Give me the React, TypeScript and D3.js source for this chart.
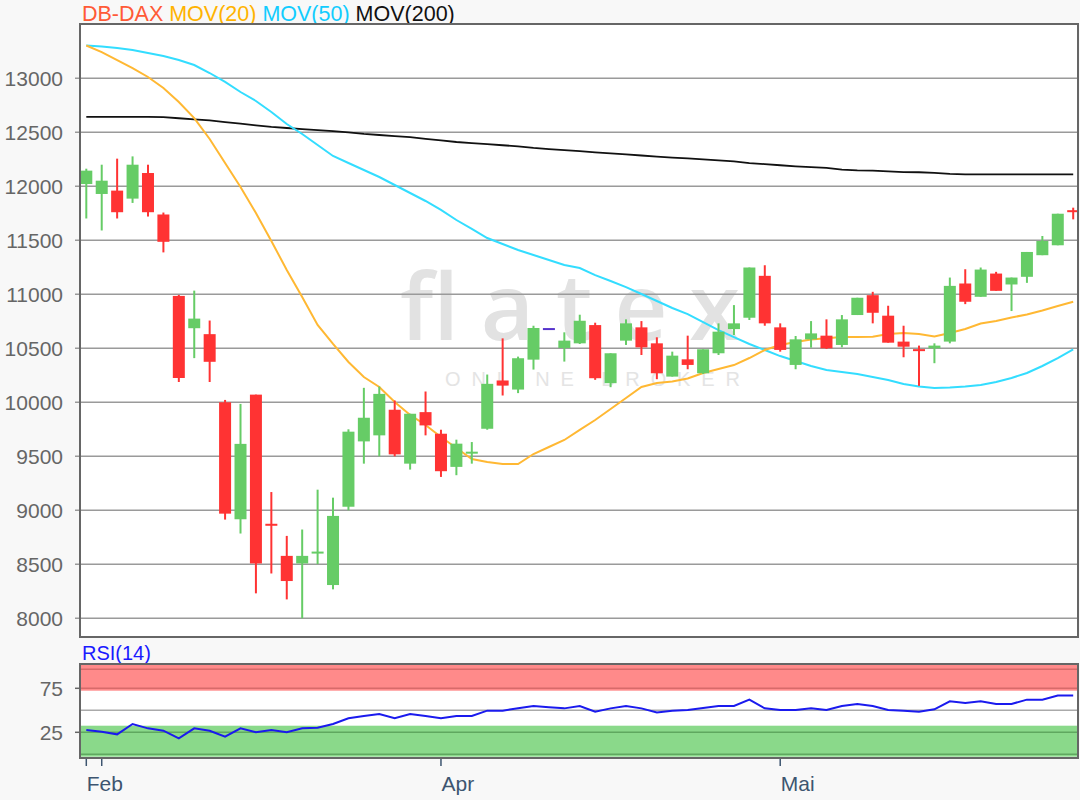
import React from 'react';
import * as d3 from 'd3';

// ---- data ----
const opens = [12021, 11929, 11960, 11886, 12123, 11739, 10985, 10686, 10631, 10000, 8917, 10071, 8870, 8578, 8508, 8605, 8308, 9033, 9638, 9694, 9931, 9432, 9909, 9709, 9402, 9530, 9755, 10202, 10118, 10395, 10678, 10503, 10546, 10715, 10177, 10571, 10694, 10546, 10238, 10398, 10269, 10454, 10678, 10783, 11171, 10694, 10346, 10583, 10617, 10531, 10808, 10992, 10802, 10562, 10491, 10500, 10562, 11100, 10977, 11192, 11091, 11162, 11362, 11454, 11777];
const highs = [12163, 12200, 12256, 12277, 12200, 11757, 10994, 11034, 10757, 10022, 9985, 10071, 9169, 8763, 8822, 9191, 9117, 9750, 10134, 10146, 10017, 9894, 10100, 9746, 9654, 9632, 10257, 10592, 10423, 10709, 10678, 10648, 10811, 10737, 10454, 10768, 10752, 10602, 10469, 10617, 10491, 10731, 10900, 11248, 11269, 10731, 10614, 10752, 10768, 10808, 10968, 11023, 10894, 10709, 10525, 10546, 11155, 11232, 11248, 11208, 11155, 11392, 11540, 11746, 11802];
const lows = [11702, 11591, 11702, 11846, 11720, 11388, 10188, 10409, 10188, 8914, 8785, 8231, 8415, 8175, 8000, 8502, 8268, 9000, 9432, 9500, 9500, 9377, 9694, 9309, 9325, 9432, 9746, 10063, 10085, 10303, 10678, 10377, 10540, 10208, 10140, 10531, 10438, 10214, 10238, 10306, 10263, 10438, 10623, 10762, 10709, 10469, 10306, 10506, 10494, 10509, 10808, 10731, 10552, 10417, 10152, 10362, 10546, 10909, 10977, 11032, 10845, 11106, 11362, 11454, 11694];
const closes = [12145, 12052, 11760, 12200, 11760, 11486, 10225, 10775, 10375, 8969, 9615, 8508, 8862, 8345, 8578, 8612, 8948, 9728, 9857, 10078, 9518, 9894, 9786, 9362, 9617, 9537, 10171, 10155, 10408, 10688, 10678, 10571, 10755, 10223, 10454, 10731, 10509, 10269, 10432, 10346, 10491, 10654, 10731, 11248, 10731, 10485, 10583, 10638, 10500, 10768, 10968, 10829, 10552, 10515, 10475, 10525, 11078, 10931, 11229, 11032, 11155, 11392, 11494, 11746, 11762];

const mov20 = [13304, 13243, 13169, 13095, 13012, 12910, 12781, 12632, 12438, 12216, 11994, 11753, 11494, 11225, 10975, 10716, 10540, 10373, 10234, 10142, 10003, 9883, 9790, 9679, 9577, 9475, 9447, 9429, 9429, 9521, 9586, 9651, 9744, 9836, 9938, 10040, 10142, 10179, 10193, 10221, 10271, 10308, 10345, 10410, 10484, 10530, 10558, 10581, 10593, 10605, 10605, 10607, 10632, 10642, 10632, 10609, 10642, 10679, 10730, 10753, 10785, 10813, 10850, 10892, 10931];
const mov50 = [13304, 13294, 13280, 13262, 13234, 13206, 13169, 13123, 13049, 12966, 12873, 12790, 12688, 12577, 12484, 12382, 12281, 12216, 12151, 12086, 12012, 11938, 11864, 11781, 11688, 11605, 11521, 11466, 11410, 11364, 11318, 11271, 11243, 11178, 11123, 11067, 11003, 10938, 10873, 10817, 10743, 10669, 10604, 10540, 10484, 10428, 10382, 10336, 10299, 10281, 10262, 10234, 10207, 10170, 10146, 10132, 10137, 10146, 10160, 10188, 10225, 10271, 10336, 10410, 10489];
const mov200 = [12642, 12642, 12642, 12642, 12642, 12640, 12630, 12620, 12610, 12595, 12580, 12565, 12550, 12540, 12530, 12520, 12510, 12500, 12485, 12475, 12465, 12455, 12440, 12425, 12410, 12400, 12390, 12380, 12370, 12355, 12345, 12335, 12325, 12315, 12305, 12295, 12285, 12275, 12265, 12258, 12250, 12240, 12230, 12215, 12205, 12195, 12185, 12178, 12170, 12155, 12148, 12145, 12138, 12132, 12130, 12125, 12115, 12110, 12110, 12110, 12110, 12110, 12110, 12110, 12110];
const rsi14 = [27.6, 25.7, 22.7, 34.4, 29.5, 26.8, 18.2, 29.5, 26.8, 20, 29.5, 25, 27.6, 25, 29.5, 30.2, 34.4, 40.9, 43.5, 45.8, 40.9, 45.8, 43.5, 40.9, 43.5, 43.5, 49.6, 49.6, 52.2, 54.9, 53.5, 52.2, 54.9, 48.4, 52.2, 54.9, 52.2, 47.6, 49.6, 50.4, 52.6, 54.9, 54.9, 62.1, 52.2, 50.4, 50.4, 52.2, 50.4, 54.9, 57.2, 54.9, 50.4, 49.6, 48.4, 51.1, 60.2, 58.3, 60.2, 57.2, 57.2, 62.1, 62.1, 66.7, 66.7];

const priceTicks = [8000, 8500, 9000, 9500, 10000, 10500, 11000, 11500, 12000, 12500, 13000];
const rsiTicks = [25, 75];
const xTicks = [
  { index: 0, label: 'Feb' },
  { index: 1, label: '' },
  { index: 23, label: 'Apr' },
  { index: 45, label: 'Mai' },
];
const legendItems = [
  { label: 'DB-DAX', color: '#ff5a36' },
  { label: 'MOV(20)', color: '#ffb300' },
  { label: 'MOV(50)', color: '#11ccff' },
  { label: 'MOV(200)', color: '#111111' },
];

const FONT = "'Liberation Sans', Arial, Helvetica, sans-serif";

export default function App() {
  const W = 1080;
  const H = 800;
  const panel = { left: 80, right: 1078, top: 24, bottom: 637 };
  const rsiPanel = { left: 80, right: 1078, top: 664, bottom: 758 };

  const n = opens.length;
  const x = d3.scaleLinear().domain([0, n - 1]).range([86.3, 1073.2]);
  const y = d3.scaleLinear().domain([8000, 13000]).range([618.3, 78.3]);
  const yr = d3.scaleLinear().domain([0, 100]).range([754.3, 666.3]);

  const idx = d3.range(n);
  const lineFor = (vals: number[], sc: d3.ScaleLinear<number, number>) =>
    d3.line<number>().x((i) => x(i)).y((i) => sc(vals[i]))(idx) || '';

  const bodyW = 12;
  const green = '#66cc66';
  const red = '#ff3333';
  const neutral = '#5533cc';

  return (
    <svg
      width={W}
      height={H}
      viewBox={`0 0 ${W} ${H}`}
      style={{ position: 'absolute', left: 0, top: 0, background: '#f8f8f8' }}
      fontFamily={FONT}
    >
      <defs>
        <clipPath id="mainClip">
          <rect x={panel.left} y={panel.top} width={panel.right - panel.left} height={panel.bottom - panel.top} />
        </clipPath>
      </defs>
      <rect x={0} y={0} width={W} height={H} fill="#f8f8f8" />

      {/* Legend */}
      <text x={82} y={21} fontSize={21.5}>
        {legendItems.map((d, k) => (
          <tspan key={k} fill={d.color}>{(k > 0 ? ' ' : '') + d.label}</tspan>
        ))}
      </text>

      {/* Main panel */}
      <rect x={panel.left} y={panel.top} width={panel.right - panel.left} height={panel.bottom - panel.top} fill="#ffffff" />

      {/* watermark */}
      <g clipPath="url(#mainClip)">
        <text x={400} y={340} fontSize={92} fontWeight={600} fill="#e2e2e2" fontFamily="'Open Sans', 'Liberation Sans', sans-serif" textLength={340} lengthAdjust="spacing">flatex</text>
        <text x={445} y={386} fontSize={20} fill="#e4e4e4" textLength={295} lengthAdjust="spacing">ONLINE BROKER</text>
      </g>

      {/* grid lines */}
      {priceTicks.map((t) => (
        <g key={t}>
          <line x1={75} x2={panel.right} y1={y(t)} y2={y(t)} stroke="#9a9a9a" strokeWidth={1.6} />
          <text x={63} y={y(t)} dy="0.35em" textAnchor="end" fontSize={21} fill="#666666">{t}</text>
        </g>
      ))}

      <g clipPath="url(#mainClip)">
        {/* moving averages */}
        <path d={lineFor(mov200, y)} fill="none" stroke="#111111" strokeWidth={1.8} />
        <path d={lineFor(mov50, y)} fill="none" stroke="#33ddff" strokeWidth={2} />
        <path d={lineFor(mov20, y)} fill="none" stroke="#ffb833" strokeWidth={2} />

        {/* candles */}
        {idx.map((i) => {
          const o = opens[i];
          const c = closes[i];
          const col = c > o ? green : c < o ? red : neutral;
          const top = y(Math.max(o, c));
          const bot = y(Math.min(o, c));
          const h = Math.max(2, bot - top);
          const cx = x(i);
          return (
            <g key={i}>
              {highs[i] !== lows[i] && (
                <line x1={cx} x2={cx} y1={y(highs[i])} y2={y(lows[i])} stroke={col} strokeWidth={2} />
              )}
              <rect x={cx - bodyW / 2} y={h === 2 ? (top + bot) / 2 - 1 : top} width={bodyW} height={h} fill={col} />
            </g>
          );
        })}
      </g>

      <rect x={panel.left} y={panel.top} width={panel.right - panel.left} height={panel.bottom - panel.top} fill="none" stroke="#666666" strokeWidth={2} />

      {/* RSI panel */}
      <text x={82} y={660} fontSize={20} fill="#1a1aff">RSI(14)</text>
      <rect x={rsiPanel.left} y={rsiPanel.top} width={rsiPanel.right - rsiPanel.left} height={rsiPanel.bottom - rsiPanel.top} fill="#ffffff" />
      <rect x={rsiPanel.left} y={yr(102)} width={rsiPanel.right - rsiPanel.left} height={yr(72.3) - yr(102)} fill="#ff8a8a" />
      <rect x={rsiPanel.left} y={yr(32.5)} width={rsiPanel.right - rsiPanel.left} height={yr(-2.7) - yr(32.5)} fill="#8ad98a" />
      <line x1={rsiPanel.left} x2={rsiPanel.right} y1={yr(96.6)} y2={yr(96.6)} stroke="#d86a6a" strokeWidth={1.5} />
      <line x1={rsiPanel.left} x2={rsiPanel.right} y1={yr(75)} y2={yr(75)} stroke="#d86a6a" strokeWidth={1.5} />
      <line x1={rsiPanel.left} x2={rsiPanel.right} y1={yr(50)} y2={yr(50)} stroke="#aaaaaa" strokeWidth={1.5} />
      <line x1={rsiPanel.left} x2={rsiPanel.right} y1={yr(25)} y2={yr(25)} stroke="#5fa85f" strokeWidth={1.5} />
      <line x1={rsiPanel.left} x2={rsiPanel.right} y1={yr(0)} y2={yr(0)} stroke="#5fa85f" strokeWidth={1.5} />
      {rsiTicks.map((t) => (
        <g key={t}>
          <line x1={75} x2={rsiPanel.left} y1={yr(t)} y2={yr(t)} stroke="#666666" strokeWidth={1.5} />
          <text x={63} y={yr(t)} dy="0.35em" textAnchor="end" fontSize={21} fill="#666666">{t}</text>
        </g>
      ))}
      <path d={lineFor(rsi14, yr)} fill="none" stroke="#1a1aee" strokeWidth={2} />
      <rect x={rsiPanel.left} y={rsiPanel.top} width={rsiPanel.right - rsiPanel.left} height={rsiPanel.bottom - rsiPanel.top} fill="none" stroke="#666666" strokeWidth={2} />

      {/* x axis */}
      {xTicks.map((t) => (
        <g key={t.index}>
          <line x1={x(t.index)} x2={x(t.index)} y1={rsiPanel.bottom + 1} y2={rsiPanel.bottom + 8} stroke="#3d5570" strokeWidth={1.5} />
          {t.label && (
            <text x={x(t.index) + 0.5} y={790.7} fontSize={21} fill="#3d5570">{t.label}</text>
          )}
        </g>
      ))}
    </svg>
  );
}
